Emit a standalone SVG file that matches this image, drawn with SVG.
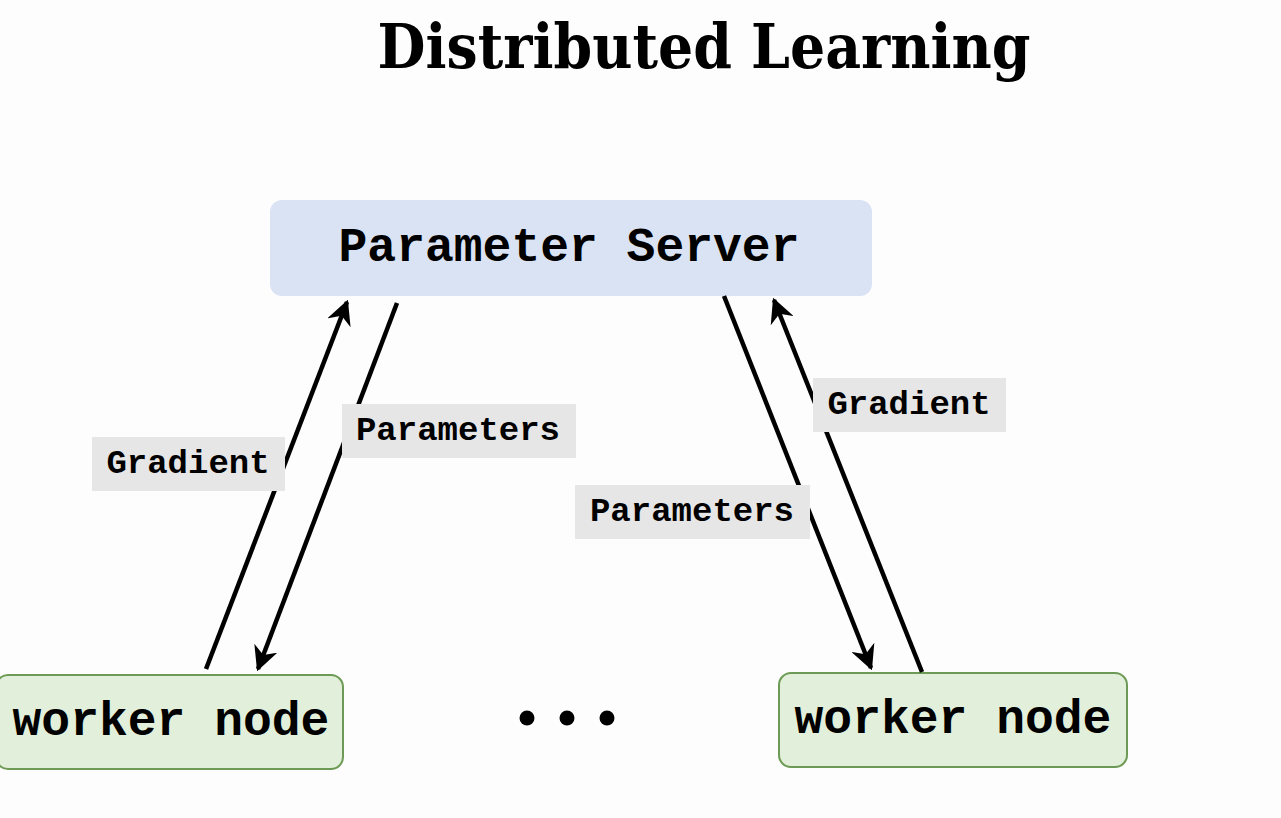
<svg xmlns="http://www.w3.org/2000/svg" width="1281" height="818" viewBox="0 0 1281 818">
<defs>
<marker id="ah" viewBox="0 0 10 10" refX="9" refY="5" markerWidth="5.5" markerHeight="5.5" markerUnits="strokeWidth" orient="auto">
<path d="M0,0 L10,5 L0,10 L3,5 Z" fill="#000"/>
</marker>
<style>
.node-text{font-family:"Liberation Mono","Courier New",monospace;font-weight:bold;fill:#000;text-anchor:middle}
.lbl-bg{fill:#e6e6e6}
.lbl{font-family:"Liberation Mono","Courier New",monospace;font-weight:bold;font-size:34px;fill:#000;text-anchor:middle}
.conn{stroke:#000;stroke-width:4.5;fill:none}
.worker{fill:#e2efda;stroke:#6d9a54;stroke-width:2}
</style>
</defs>
<rect width="1281" height="818" fill="#fdfdfd"/>
<text x="704" y="68" font-family="DejaVu Serif Condensed, DejaVu Serif, serif" font-weight="bold" font-size="61.5" text-anchor="middle" fill="#000">Distributed Learning</text>
<g id="parameter-server">
<rect x="270" y="200" width="602" height="96" rx="12" fill="#dae3f3"/>
<text class="node-text" x="569" y="261" font-size="48">Parameter Server</text>
</g>
<g id="worker-left">
<rect class="worker" x="-4" y="675" width="347" height="94" rx="12"/>
<text class="node-text" x="171" y="735" font-size="48">worker node</text>
</g>
<g id="worker-right">
<rect class="worker" x="779" y="673" width="348" height="94" rx="12"/>
<text class="node-text" x="953" y="733" font-size="48">worker node</text>
</g>
<g id="ellipsis">
<circle cx="527" cy="718" r="7.5" fill="#000"/>
<circle cx="567" cy="718" r="7.5" fill="#000"/>
<circle cx="607" cy="718" r="7.5" fill="#000"/>
</g>
<g id="connectors">
<line class="conn" x1="206" y1="669" x2="347" y2="302" marker-end="url(#ah)"/>
<line class="conn" x1="397" y1="303" x2="258" y2="669" marker-end="url(#ah)"/>
<line class="conn" x1="724" y1="296" x2="871" y2="668" marker-end="url(#ah)"/>
<line class="conn" x1="922" y1="672" x2="774" y2="300" marker-end="url(#ah)"/>
<g id="label-gradient-left">
<rect class="lbl-bg" x="92" y="437" width="193" height="54"/>
<text class="lbl" x="188" y="473">Gradient</text>
</g>
<g id="label-parameters-left">
<rect class="lbl-bg" x="342" y="404" width="234" height="54"/>
<text class="lbl" x="458" y="440">Parameters</text>
</g>
<g id="label-gradient-right">
<rect class="lbl-bg" x="813" y="378" width="193" height="54"/>
<text class="lbl" x="909" y="414">Gradient</text>
</g>
<g id="label-parameters-right">
<rect class="lbl-bg" x="575" y="485" width="235" height="54"/>
<text class="lbl" x="692" y="521">Parameters</text>
</g>
</g>
</svg>
